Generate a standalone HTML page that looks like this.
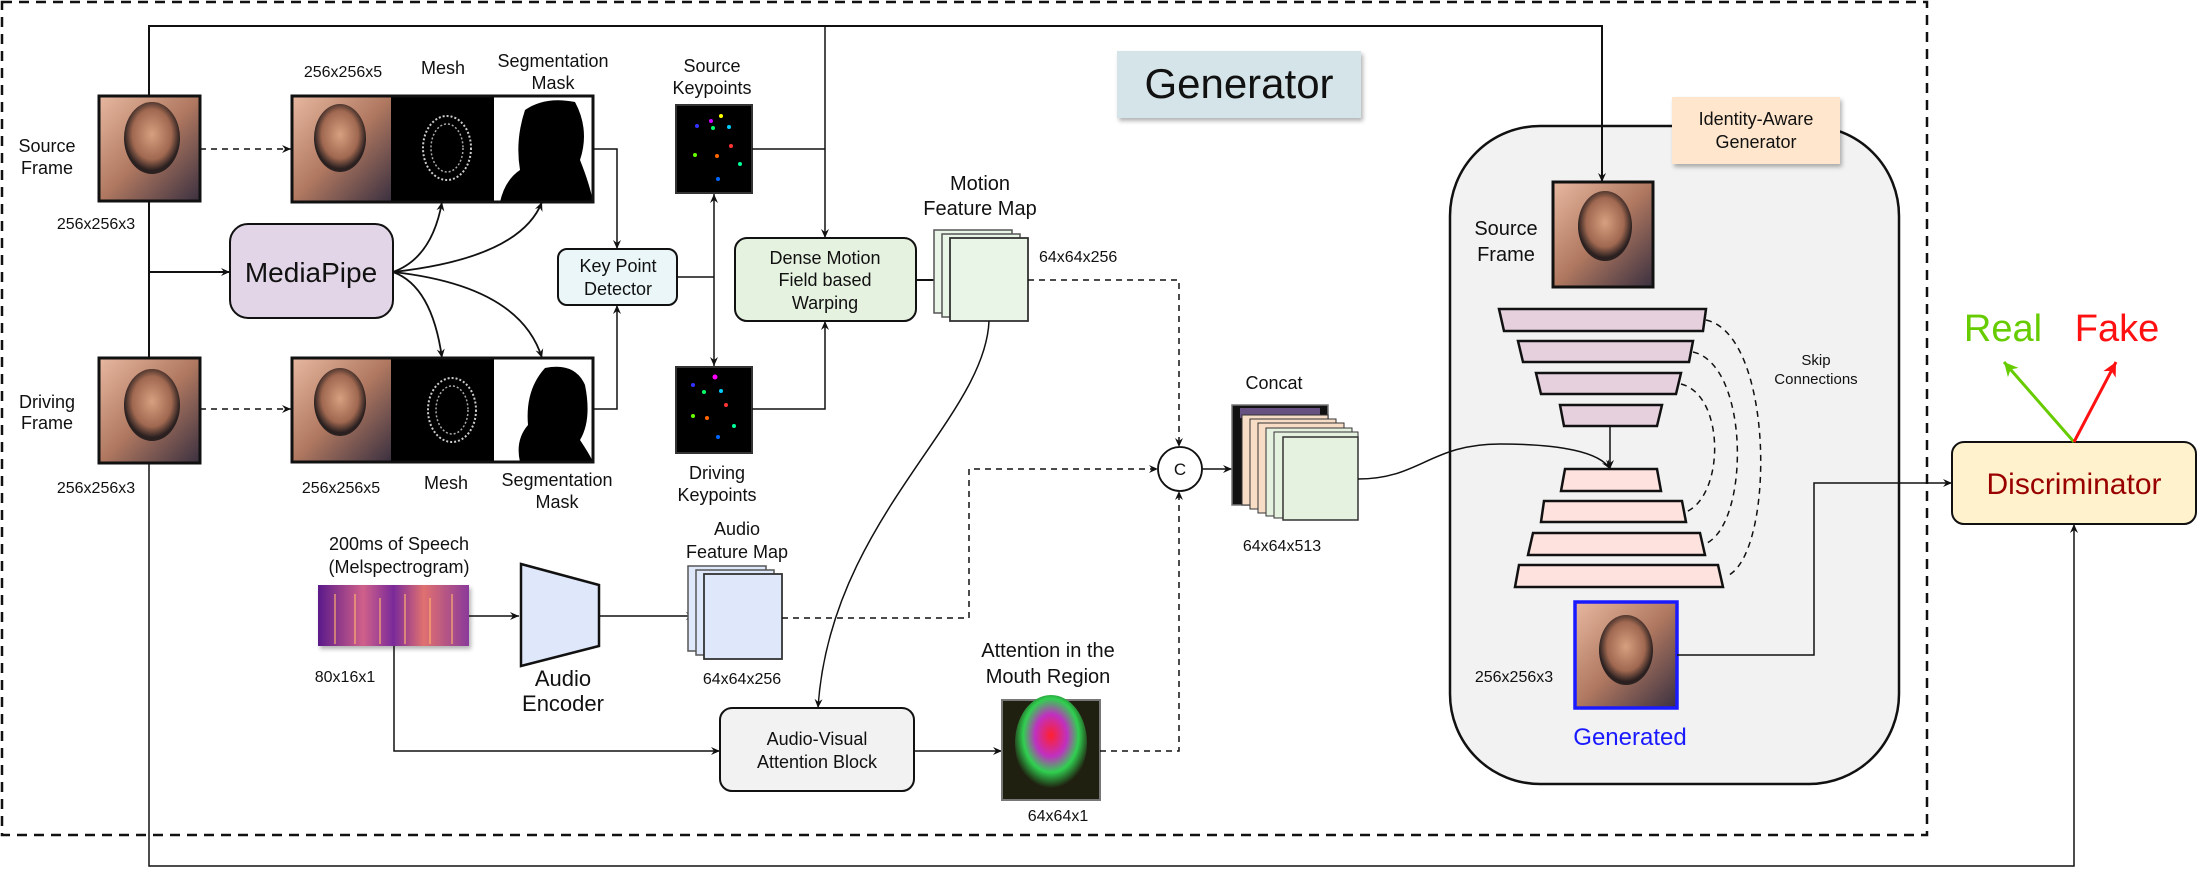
<!DOCTYPE html>
<html><head><meta charset="utf-8"><style>
html,body{margin:0;padding:0;background:#fff;}
svg{display:block;}
text{font-family:"Liberation Sans",sans-serif;fill:#111;}
</style></head><body>
<svg width="2203" height="880" viewBox="0 0 2203 880" xmlns="http://www.w3.org/2000/svg">
<defs>
<marker id="a" markerWidth="10" markerHeight="10" refX="9" refY="5" orient="auto" markerUnits="userSpaceOnUse"><path d="M0,1 L9,5 L0,9 L3,5 z" fill="#111"/></marker>
<marker id="ag" markerWidth="20" markerHeight="20" refX="14" refY="8" orient="auto" markerUnits="userSpaceOnUse"><path d="M0,1 L14,8 L0,15 L4,8 z" fill="#66cc00"/></marker>
<marker id="ar" markerWidth="20" markerHeight="20" refX="14" refY="8" orient="auto" markerUnits="userSpaceOnUse"><path d="M0,1 L14,8 L0,15 L4,8 z" fill="#ff1111"/></marker>
<linearGradient id="face" x1="0" y1="0" x2="1" y2="1"><stop offset="0" stop-color="#e8b8a0"/><stop offset="0.5" stop-color="#b07860"/><stop offset="1" stop-color="#3a3040"/></linearGradient>
<radialGradient id="head" cx="0.5" cy="0.45" r="0.5"><stop offset="0" stop-color="#d7a080"/><stop offset="0.7" stop-color="#a06850"/><stop offset="1" stop-color="#2a2020"/></radialGradient>
<linearGradient id="mel" x1="0" y1="0" x2="1" y2="0"><stop offset="0" stop-color="#5a1a8a"/><stop offset="0.3" stop-color="#d0608a"/><stop offset="0.5" stop-color="#7a2a9a"/><stop offset="0.7" stop-color="#e07070"/><stop offset="1" stop-color="#8a3a9a"/></linearGradient>
<radialGradient id="att" cx="0.5" cy="0.42" r="0.55"><stop offset="0" stop-color="#ff2030"/><stop offset="0.4" stop-color="#c030c0"/><stop offset="0.7" stop-color="#30d050"/><stop offset="1" stop-color="#202010"/></radialGradient>
<filter id="sh" x="-10%" y="-10%" width="130%" height="130%"><feDropShadow dx="2" dy="3" stdDeviation="2" flood-opacity="0.3"/></filter>
</defs>

<rect x="2" y="2" width="1925" height="833" fill="none" stroke="#111" stroke-width="2.5" stroke-dasharray="10,7"/>

<polyline points="149,96 149,26 1602,26 1602,182" fill="none" stroke="#111" stroke-width="2"/>
<polyline points="149,201 149,358" fill="none" stroke="#111" stroke-width="2"/>
<polyline points="149,463 149,866 2074,866 2074,524" fill="none" stroke="#111" stroke-width="1.5" marker-end="url(#a)"/>
<line x1="825" y1="26" x2="825" y2="238" stroke="#111" stroke-width="1.5" marker-end="url(#a)"/>
<line x1="149" y1="272" x2="230" y2="272" stroke="#111" stroke-width="2" marker-end="url(#a)"/>

<rect x="1117" y="51" width="244" height="67" fill="#d5e4e8" filter="url(#sh)"/>
<text x="1239" y="98" font-size="42" text-anchor="middle">Generator</text>

<rect x="99" y="96" width="101" height="105" fill="url(#face)" stroke="#111" stroke-width="3"/>
<ellipse cx="152" cy="138" rx="28" ry="36" fill="url(#head)"/>
<rect x="99" y="358" width="101" height="105" fill="url(#face)" stroke="#111" stroke-width="3"/>
<ellipse cx="152" cy="405" rx="28" ry="36" fill="url(#head)"/>
<g font-size="18" text-anchor="middle">
<text x="47" y="152">Source</text><text x="47" y="174">Frame</text>
<text x="47" y="408">Driving</text><text x="47" y="429">Frame</text>
</g>
<g font-size="16" text-anchor="middle">
<text x="96" y="229">256x256x3</text><text x="96" y="493">256x256x3</text>
</g>
<line x1="200" y1="149" x2="291" y2="149" stroke="#111" stroke-width="1.5" stroke-dasharray="6,5" marker-end="url(#a)"/>
<line x1="200" y1="409" x2="291" y2="409" stroke="#111" stroke-width="1.5" stroke-dasharray="6,5" marker-end="url(#a)"/>

<g>
<rect x="292" y="96" width="99" height="106" fill="url(#face)"/>
<ellipse cx="340" cy="138" rx="26" ry="34" fill="url(#head)"/>
<rect x="391" y="96" width="103" height="106" fill="#000"/>
<ellipse cx="447" cy="148" rx="24" ry="32" fill="none" stroke="#ccc" stroke-width="2" stroke-dasharray="2,2"/>
<ellipse cx="447" cy="148" rx="16" ry="24" fill="none" stroke="#aaa" stroke-width="1.5" stroke-dasharray="2,2"/>
<rect x="494" y="96" width="99" height="106" fill="#fff"/>
<path d="M500,202 Q505,180 520,170 Q515,140 525,110 Q545,96 575,102 Q590,130 580,160 Q590,185 593,202 Z" fill="#000"/>
<rect x="292" y="96" width="301" height="106" fill="none" stroke="#111" stroke-width="3"/>
</g>
<g>
<rect x="292" y="358" width="99" height="104" fill="url(#face)"/>
<ellipse cx="340" cy="402" rx="26" ry="34" fill="url(#head)"/>
<rect x="391" y="358" width="103" height="104" fill="#000"/>
<ellipse cx="452" cy="410" rx="24" ry="32" fill="none" stroke="#ccc" stroke-width="2" stroke-dasharray="2,2"/>
<ellipse cx="452" cy="410" rx="16" ry="24" fill="none" stroke="#aaa" stroke-width="1.5" stroke-dasharray="2,2"/>
<rect x="494" y="358" width="99" height="104" fill="#fff"/>
<path d="M520,462 Q515,440 528,425 Q525,390 545,368 Q575,362 585,385 Q592,420 580,440 Q590,455 593,462 Z" fill="#000"/>
<rect x="292" y="358" width="301" height="104" fill="none" stroke="#111" stroke-width="3"/>
</g>
<g font-size="16" text-anchor="middle"><text x="343" y="77">256x256x5</text><text x="341" y="493">256x256x5</text></g>
<g font-size="18" text-anchor="middle">
<text x="443" y="74">Mesh</text><text x="553" y="67">Segmentation</text><text x="553" y="89">Mask</text>
<text x="446" y="489">Mesh</text><text x="557" y="486">Segmentation</text><text x="557" y="508">Mask</text>
</g>

<rect x="230" y="224" width="163" height="94" rx="18" fill="#e1d5e7" stroke="#111" stroke-width="2"/>
<text x="311" y="282" font-size="28" text-anchor="middle">MediaPipe</text>
<g fill="none" stroke="#111" stroke-width="1.8">
<path d="M393,272 Q432,258 442,202" marker-end="url(#a)"/>
<path d="M393,272 Q520,258 542,202" marker-end="url(#a)"/>
<path d="M393,272 Q432,286 442,358" marker-end="url(#a)"/>
<path d="M393,272 Q520,286 542,358" marker-end="url(#a)"/>
</g>

<rect x="558" y="249" width="119" height="56" rx="9" fill="#eaf6f8" stroke="#111" stroke-width="2"/>
<text x="618" y="272" font-size="18" text-anchor="middle">Key Point</text>
<text x="618" y="295" font-size="18" text-anchor="middle">Detector</text>
<polyline points="593,149 617,149 617,249" fill="none" stroke="#111" stroke-width="1.5" marker-end="url(#a)"/>
<polyline points="593,409 617,409 617,305" fill="none" stroke="#111" stroke-width="1.5" marker-end="url(#a)"/>
<line x1="677" y1="277" x2="714" y2="277" stroke="#111" stroke-width="1.5"/>
<line x1="714" y1="277" x2="714" y2="194" stroke="#111" stroke-width="1.5" marker-end="url(#a)"/>
<line x1="714" y1="277" x2="714" y2="366" stroke="#111" stroke-width="1.5" marker-end="url(#a)"/>

<rect x="676" y="105" width="76" height="88" fill="#000" stroke="#333" stroke-width="2"/>
<g><circle cx="721" cy="116" r="2" fill="#ff0"/><circle cx="711" cy="121" r="2" fill="#c0f"/><circle cx="697" cy="126" r="2" fill="#33f"/><circle cx="713" cy="128" r="2" fill="#0f6"/><circle cx="729" cy="127" r="2" fill="#0cf"/><circle cx="731" cy="146" r="2" fill="#f33"/><circle cx="695" cy="155" r="2" fill="#6f0"/><circle cx="717" cy="156" r="2" fill="#f60"/><circle cx="740" cy="164" r="2" fill="#0f9"/><circle cx="718" cy="179" r="2" fill="#06f"/></g>
<rect x="676" y="367" width="76" height="86" fill="#000" stroke="#333" stroke-width="2"/>
<g><circle cx="715" cy="377" r="2.5" fill="#f0f"/><circle cx="693" cy="385" r="2" fill="#33f"/><circle cx="704" cy="392" r="2" fill="#0f6"/><circle cx="721" cy="391" r="2" fill="#0cf"/><circle cx="726" cy="405" r="2" fill="#f33"/><circle cx="693" cy="416" r="2" fill="#6f0"/><circle cx="707" cy="418" r="2" fill="#f60"/><circle cx="734" cy="426" r="2" fill="#0f9"/><circle cx="718" cy="437" r="2" fill="#06f"/></g>
<g font-size="18" text-anchor="middle">
<text x="712" y="72">Source</text><text x="712" y="94">Keypoints</text>
<text x="717" y="479">Driving</text><text x="717" y="501">Keypoints</text>
</g>
<polyline points="752,149 825,149" fill="none" stroke="#111" stroke-width="1.5"/>
<polyline points="752,409 825,409 825,321" fill="none" stroke="#111" stroke-width="1.5" marker-end="url(#a)"/>

<rect x="735" y="238" width="181" height="83" rx="12" fill="#e6f2e0" stroke="#111" stroke-width="2"/>
<g font-size="18" text-anchor="middle"><text x="825" y="264">Dense Motion</text><text x="825" y="286">Field based</text><text x="825" y="309">Warping</text></g>
<line x1="916" y1="280" x2="950" y2="280" stroke="#111" stroke-width="2" marker-end="url(#a)"/>

<rect x="934" y="230" width="78" height="83" fill="#e9f5e6" stroke="#555" stroke-width="1.5"/>
<rect x="942" y="234" width="78" height="83" fill="#e9f5e6" stroke="#555" stroke-width="1.5"/>
<rect x="950" y="238" width="78" height="83" fill="#e9f5e6" stroke="#333" stroke-width="1.8"/>
<g font-size="20" text-anchor="middle"><text x="980" y="190">Motion</text><text x="980" y="215">Feature Map</text></g>
<text x="1039" y="262" font-size="16">64x64x256</text>
<polyline points="1028,280 1179,280 1179,447" fill="none" stroke="#111" stroke-width="1.5" stroke-dasharray="6,5" marker-end="url(#a)"/>
<path d="M989,321 C985,420 830,520 818,708" fill="none" stroke="#111" stroke-width="1.5" marker-end="url(#a)"/>

<circle cx="1180" cy="469" r="22" fill="#fff" stroke="#111" stroke-width="1.8"/>
<text x="1180" y="475" font-size="17" text-anchor="middle">C</text>
<line x1="1202" y1="469" x2="1232" y2="469" stroke="#111" stroke-width="1.5" marker-end="url(#a)"/>

<rect x="1232" y="405" width="96" height="100" fill="#111" stroke="#777" stroke-width="1.5"/>
<rect x="1240" y="408" width="80" height="10" fill="#8a6cb0" opacity="0.7"/>
<rect x="1242" y="415" width="86" height="90" fill="#f8ddc6" stroke="#333"/>
<rect x="1250" y="419" width="86" height="90" fill="#f8ddc6" stroke="#333"/>
<rect x="1258" y="423" width="86" height="90" fill="#f8ddc6" stroke="#333"/>
<rect x="1266" y="428" width="86" height="88" fill="#e6f2e0" stroke="#333"/>
<rect x="1274" y="432" width="84" height="86" fill="#e6f2e0" stroke="#333"/>
<rect x="1283" y="437" width="75" height="83" fill="#e6f2e0" stroke="#333" stroke-width="1.5"/>
<text x="1274" y="389" font-size="18" text-anchor="middle">Concat</text>
<text x="1282" y="551" font-size="16" text-anchor="middle">64x64x513</text>

<rect x="318" y="585" width="151" height="61" fill="url(#mel)" filter="url(#sh)"/>
<g stroke="#ffb070" stroke-width="2" opacity="0.6"><line x1="335" y1="594" x2="335" y2="644"/><line x1="355" y1="594" x2="355" y2="644"/><line x1="380" y1="598" x2="380" y2="644"/><line x1="405" y1="594" x2="405" y2="644"/><line x1="430" y1="598" x2="430" y2="644"/><line x1="452" y1="594" x2="452" y2="644"/></g>
<g font-size="18" text-anchor="middle"><text x="399" y="550">200ms of Speech</text><text x="399" y="573">(Melspectrogram)</text></g>
<text x="345" y="682" font-size="16" text-anchor="middle">80x16x1</text>
<line x1="469" y1="616" x2="519" y2="616" stroke="#111" stroke-width="1.5" marker-end="url(#a)"/>
<polygon points="521,564 599,585 599,646 521,666" fill="#dfe8fa" stroke="#111" stroke-width="2.5"/>
<g font-size="22" text-anchor="middle"><text x="563" y="686">Audio</text><text x="563" y="711">Encoder</text></g>
<line x1="599" y1="616" x2="695" y2="616" stroke="#111" stroke-width="1.5" marker-end="url(#a)"/>
<rect x="688" y="566" width="78" height="85" fill="#dfe8fa" stroke="#555" stroke-width="1.5"/>
<rect x="696" y="570" width="78" height="85" fill="#dfe8fa" stroke="#555" stroke-width="1.5"/>
<rect x="704" y="574" width="78" height="85" fill="#dfe8fa" stroke="#333" stroke-width="1.8"/>
<g font-size="18" text-anchor="middle"><text x="737" y="535">Audio</text><text x="737" y="558">Feature Map</text></g>
<text x="742" y="684" font-size="16" text-anchor="middle">64x64x256</text>
<polyline points="782,618 969,618 969,469 1158,469" fill="none" stroke="#111" stroke-width="1.5" stroke-dasharray="6,5" marker-end="url(#a)"/>
<polyline points="394,646 394,751 720,751" fill="none" stroke="#111" stroke-width="1.5" marker-end="url(#a)"/>

<rect x="720" y="708" width="194" height="83" rx="12" fill="#f2f2f2" stroke="#111" stroke-width="2"/>
<g font-size="18" text-anchor="middle"><text x="817" y="745">Audio-Visual</text><text x="817" y="768">Attention Block</text></g>
<line x1="914" y1="751" x2="1002" y2="751" stroke="#111" stroke-width="1.5" marker-end="url(#a)"/>
<rect x="1002" y="700" width="98" height="100" fill="#202010" stroke="#777" stroke-width="2"/>
<ellipse cx="1051" cy="743" rx="36" ry="48" fill="url(#att)"/>
<g font-size="20" text-anchor="middle"><text x="1048" y="657">Attention in the</text><text x="1048" y="683">Mouth Region</text></g>
<text x="1058" y="821" font-size="16" text-anchor="middle">64x64x1</text>
<polyline points="1100,751 1179,751 1179,491" fill="none" stroke="#111" stroke-width="1.5" stroke-dasharray="6,5" marker-end="url(#a)"/>

<rect x="1450" y="126" width="449" height="658" rx="90" fill="#f2f2f2" stroke="#111" stroke-width="2.5"/>
<line x1="1602" y1="120" x2="1602" y2="182" stroke="#111" stroke-width="2" marker-end="url(#a)"/>
<path d="M1358,479 C1420,479 1430,444 1500,444 C1560,444 1600,452 1610,469" fill="none" stroke="#111" stroke-width="1.5" marker-end="url(#a)"/>
<rect x="1672" y="97" width="168" height="67" fill="#ffe6cc" filter="url(#sh)"/>
<g font-size="18" text-anchor="middle"><text x="1756" y="125">Identity-Aware</text><text x="1756" y="148">Generator</text></g>
<rect x="1553" y="182" width="100" height="105" fill="url(#face)" stroke="#111" stroke-width="3"/>
<ellipse cx="1605" cy="226" rx="27" ry="35" fill="url(#head)"/>
<g font-size="20" text-anchor="middle"><text x="1506" y="235">Source</text><text x="1506" y="261">Frame</text></g>

<g stroke="#111" stroke-width="2.5" fill="#e6d0de">
<polygon points="1499,309 1706,309 1703,331 1504,331"/>
<polygon points="1518,341 1693,341 1689,362 1523,362"/>
<polygon points="1536,373 1681,373 1676,394 1541,394"/>
<polygon points="1560,405 1662,405 1657,426 1564,426"/>
</g>
<line x1="1610" y1="426" x2="1610" y2="469" stroke="#111" stroke-width="1.5" marker-end="url(#a)"/>
<g stroke="#111" stroke-width="2.5" fill="#fde2de">
<polygon points="1565,469 1657,469 1661,491 1561,491"/>
<polygon points="1544,501 1682,501 1686,522 1541,522"/>
<polygon points="1533,533 1700,533 1705,555 1528,555"/>
<polygon points="1519,565 1718,565 1723,587 1515,587"/>
</g>
<g fill="none" stroke="#111" stroke-width="1.5" stroke-dasharray="6,5">
<path d="M1706,320 C1775,335 1775,555 1727,576"/>
<path d="M1693,352 C1750,365 1750,525 1705,544"/>
<path d="M1681,384 C1725,395 1725,495 1686,512"/>
</g>
<g font-size="15" text-anchor="middle"><text x="1816" y="365">Skip</text><text x="1816" y="384">Connections</text></g>
<rect x="1575" y="602" width="102" height="106" fill="url(#face)" stroke="#1a1aff" stroke-width="3.5"/>
<ellipse cx="1626" cy="650" rx="27" ry="35" fill="url(#head)"/>
<text x="1514" y="682" font-size="16" text-anchor="middle">256x256x3</text>
<text x="1630" y="745" font-size="24" text-anchor="middle" style="fill:#1a1aff">Generated</text>
<polyline points="1677,655 1814,655 1814,483 1952,483" fill="none" stroke="#111" stroke-width="1.5" marker-end="url(#a)"/>

<rect x="1952" y="442" width="244" height="82" rx="12" fill="#fff2cc" stroke="#111" stroke-width="2"/>
<text x="2074" y="494" font-size="30" text-anchor="middle" style="fill:#990000">Discriminator</text>
<line x1="2074" y1="442" x2="2004" y2="362" stroke="#66cc00" stroke-width="3" marker-end="url(#ag)"/>
<line x1="2074" y1="442" x2="2116" y2="362" stroke="#ff1111" stroke-width="3" marker-end="url(#ar)"/>
<text x="2003" y="341" font-size="38" text-anchor="middle" style="fill:#66cc00">Real</text>
<text x="2117" y="341" font-size="38" text-anchor="middle" style="fill:#ff1111">Fake</text>
</svg>
</body></html>
